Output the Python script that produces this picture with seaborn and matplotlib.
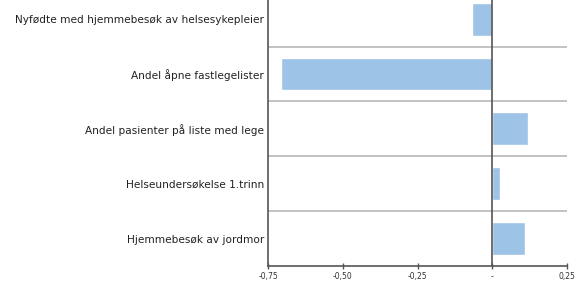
import numpy as np
import pandas as pd
import seaborn as sns
import matplotlib.pyplot as plt
from matplotlib.ticker import FuncFormatter

categories = ["Nyfødte med hjemmebesøk av helsesykepleier",
              "Andel åpne fastlegelister",
              "Andel pasienter på liste med lege",
              "Helseundersøkelse 1.trinn",
              "Hjemmebesøk av jordmor"]
values = [-0.067, -0.705, 0.12, 0.027, 0.11]
xticks = [-0.75, -0.50, -0.25, 0, 0.25]

df = pd.DataFrame({"indikator": categories, "verdi": values})

sns.set_style("white")
plt.rcParams['font.family'] = ['DejaVu Sans']

fig = plt.figure(figsize=(5.83, 2.84), dpi=100)
ax = fig.add_axes([0.4597, 0.0634, 0.5129, 0.9366])
sns.barplot(data=df, x="verdi", y="indikator", orient="h", color="#9DC3E6",
            saturation=1, width=0.6, ax=ax)

# separators between categories
for i in range(len(categories) - 1):
    ax.axhline(i + 0.5, color="#BDBDBD", lw=1.3, zorder=0)
ax.axvline(0, color="#555555", lw=1.2, zorder=3)

ax.set_xlim(-0.75, 0.25)
ax.set_ylim(len(categories) - 0.5, -0.35)
ax.set_xticks(xticks)

def fmt(v, pos):
    if abs(v) < 1e-9:
        return "-"
    return f"{v:.2f}".replace(".", ",")

ax.xaxis.set_major_formatter(FuncFormatter(fmt))
ax.set_xlabel("")
ax.set_ylabel("")
ax.tick_params(axis="x", labelsize=5.5, direction="inout", length=4, width=1,
               color="#555555", pad=2.5, labelcolor="#333333", bottom=True)
ax.tick_params(axis="y", labelsize=7.6, length=0, pad=3, labelcolor="#222222")

for s in ["top", "right"]:
    ax.spines[s].set_visible(False)
for s in ["left", "bottom"]:
    ax.spines[s].set_color("#555555")
    ax.spines[s].set_linewidth(1.2)

fig.savefig("out.png", dpi=100)
